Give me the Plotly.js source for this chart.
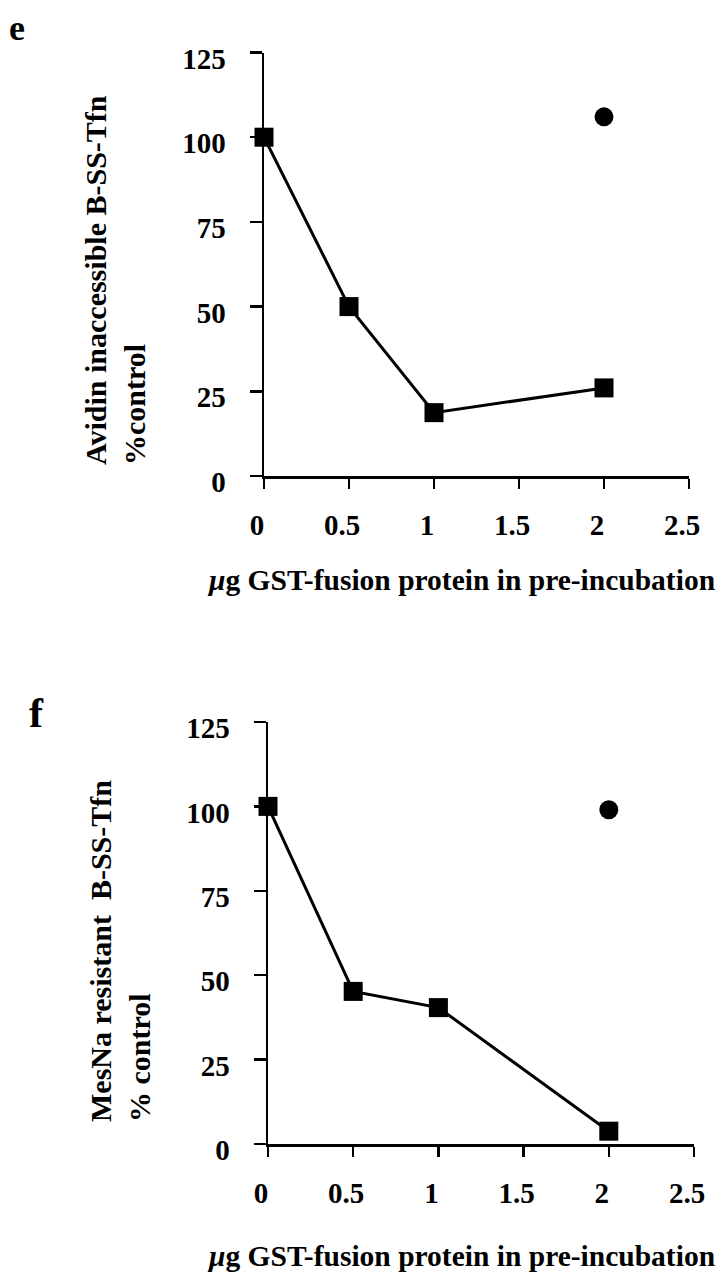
<!DOCTYPE html>
<html>
<head>
<meta charset="utf-8">
<script src="https://cdn.plot.ly/plotly-3.0.1.min.js"></script>
<style>html,body{margin:0;padding:0;background:#fff;}#chart{width:721px;height:1280px;}</style>
</head>
<body>
<div id="chart"></div>
<script>
// Data
const doseX = [0, 0.5, 1, 2];
const eSquaresY = [100, 50, 18.7, 26];
const eCircleX = [2];
const eCircleY = [106];
const fSquaresY = [100, 45.2, 40.4, 3.8];
const fCircleX = [2];
const fCircleY = [99];

const xTickVals = [0, 0.5, 1, 1.5, 2, 2.5];
const xTickText = ["0", "0.5", "1", "1.5", "2", "2.5"];
const yTickVals = [0, 25, 50, 75, 100, 125];
const yTickText = ["0", "25", "50", "75", "100", "125"];

const eYTitle = "Avidin inaccessible B-SS-Tfn<br>%control";
const fYTitle = "MesNa resistant\u00a0 B-SS-Tfn<br>% control";
const xTitle = "<i>\u03bc</i>g GST-fusion protein in pre-incubation";

const FONT = "Liberation Serif, Times New Roman, serif";
const W = 721, H = 1280;

function px(x) { return x / W; }
function py(y) { return (H - y) / H; }

const traces = [
  {x: doseX, y: eSquaresY, xaxis: 'x', yaxis: 'y', mode: 'lines+markers', type: 'scatter',
   line: {color: '#000', width: 3}, marker: {symbol: 'square', size: 19, color: '#000'}, cliponaxis: false},
  {x: eCircleX, y: eCircleY, xaxis: 'x', yaxis: 'y', mode: 'markers', type: 'scatter',
   marker: {symbol: 'circle', size: 19, color: '#000'}, cliponaxis: false},
  {x: doseX, y: fSquaresY, xaxis: 'x2', yaxis: 'y2', mode: 'lines+markers', type: 'scatter',
   line: {color: '#000', width: 3}, marker: {symbol: 'square', size: 19, color: '#000'}, cliponaxis: false},
  {x: fCircleX, y: fCircleY, xaxis: 'x2', yaxis: 'y2', mode: 'markers', type: 'scatter',
   marker: {symbol: 'circle', size: 19, color: '#000'}, cliponaxis: false}
];

function xAxis(domain, anchor) {
  return {
    domain: domain, anchor: anchor, range: [0, 2.5], fixedrange: true,
    showline: true, linecolor: '#000', linewidth: 2.5,
    ticks: 'outside', ticklen: 10, tickwidth: 2.5, tickcolor: '#000',
    tickmode: 'array', tickvals: xTickVals, ticktext: xTickText,
    showgrid: false, zeroline: false,
    tickfont: {family: FONT, size: 29, color: '#000', weight: 'bold'},
    ticklabelstandoff: 12, ticklabelshift: -7
  };
}
function yAxis(domain, anchor) {
  return {
    domain: domain, anchor: anchor, range: [0, 125], fixedrange: true,
    showline: true, linecolor: '#000', linewidth: 2.5,
    ticks: 'outside', ticklen: 12, tickwidth: 2.5, tickcolor: '#000',
    tickmode: 'array', tickvals: yTickVals, ticktext: yTickText,
    showgrid: false, zeroline: false,
    tickfont: {family: FONT, size: 29, color: '#000', weight: 'bold'},
    ticklabelstandoff: 18, ticklabelshift: 6
  };
}

const annFont = {family: FONT, size: 30, color: '#000', weight: 'bold'};

const layout = {
  width: W, height: H,
  margin: {l: 0, r: 0, t: 0, b: 0},
  paper_bgcolor: '#fff', plot_bgcolor: '#fff',
  showlegend: false,
  font: {family: FONT, color: '#000'},
  xaxis: xAxis([px(264), px(689)], 'y'),
  yaxis: yAxis([py(476), py(52.5)], 'x'),
  xaxis2: xAxis([px(268), px(694)], 'y2'),
  yaxis2: yAxis([py(1144), py(722)], 'x2'),
  annotations: [
    {text: 'e', xref: 'paper', yref: 'paper', x: px(17), y: py(50), xanchor: 'center', yanchor: 'bottom',
     showarrow: false, font: {family: FONT, size: 36, color: '#000', weight: 'bold'}},
    {text: 'f', xref: 'paper', yref: 'paper', x: px(36), y: py(713), xanchor: 'center', yanchor: 'middle',
     showarrow: false, font: {family: FONT, size: 42, color: '#000', weight: 'bold'}},
    {text: eYTitle, xref: 'paper', yref: 'paper', x: px(115), y: py(280), xanchor: 'center', yanchor: 'middle',
     textangle: -90, align: 'left', showarrow: false, font: annFont},
    {text: fYTitle, xref: 'paper', yref: 'paper', x: px(120), y: py(951), xanchor: 'center', yanchor: 'middle',
     textangle: -90, align: 'left', showarrow: false, font: annFont},
    {text: xTitle, xref: 'paper', yref: 'paper', x: px(461), y: py(580), xanchor: 'center', yanchor: 'middle',
     showarrow: false, font: {family: FONT, size: 29.5, color: '#000', weight: 'bold'}},
    {text: xTitle, xref: 'paper', yref: 'paper', x: px(461), y: py(1256), xanchor: 'center', yanchor: 'middle',
     showarrow: false, font: {family: FONT, size: 29.5, color: '#000', weight: 'bold'}}
  ]
};

Plotly.newPlot('chart', traces, layout, {displayModeBar: false, staticPlot: true});
</script>
</body>
</html>
